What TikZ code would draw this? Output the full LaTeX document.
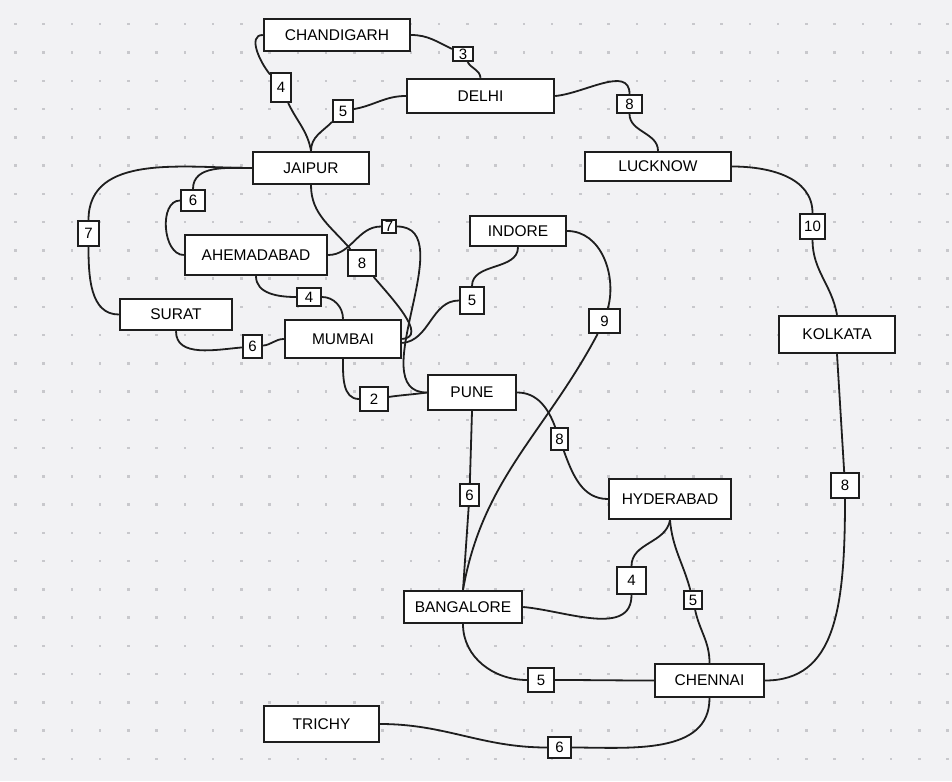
\documentclass[tikz,border=0pt]{standalone}
\usepackage{fontspec}
\setmainfont{Liberation Sans}
\definecolor{ink}{HTML}{1E1E1E}
\definecolor{paper}{HTML}{F2F2F4}
\definecolor{griddot}{HTML}{C8C8CC}
\begin{document}
\begin{tikzpicture}[x=1pt,y=1pt,
  city/.style={draw=ink, fill=white, line width=2.4pt, inner sep=0pt,
               font=\fontsize{15.5}{18}\selectfont},
  wt/.style={draw=ink, fill=white, line width=2pt, inner sep=0pt,
             font=\fontsize{15}{18}\selectfont},
  road/.style={draw=ink, line width=1.8pt},
]
% canvas and dotted grid
\fill[paper] (0,0) rectangle (952,-781);
\useasboundingbox (0,0) rectangle (952,-781);
\foreach \i in {0,...,33}
  \foreach \j in {0,...,26}
    \fill[griddot] ({15.3+\i*28.25-1.2},{-24.3-\j*28.25-1.2}) rectangle ++(2.4,2.4);

% cities
\node[city, minimum width=146pt, minimum height=32pt] (ch)  at (337,-35)    {CHANDIGARH};
\node[city, minimum width=147pt, minimum height=34pt] (de)  at (480.5,-96)  {DELHI};
\node[city, minimum width=116pt, minimum height=32pt] (ja)  at (311,-168)   {JAIPUR};
\node[city, minimum width=146pt, minimum height=29pt] (lu)  at (658,-166.5) {LUCKNOW};
\node[city, minimum width=116pt, minimum height=37pt] (ko)  at (837,-334.5) {KOLKATA};
\node[city, minimum width=142pt, minimum height=40pt] (ah)  at (256,-255)   {AHEMADABAD};
\node[city, minimum width=112pt, minimum height=31pt] (su)  at (176,-314.5) {SURAT};
\node[city, minimum width=116pt, minimum height=38pt] (mu)  at (343,-339)   {MUMBAI};
\node[city, minimum width=96pt,  minimum height=30pt] (ind) at (518,-231)   {INDORE};
\node[city, minimum width=88pt,  minimum height=35pt] (pu)  at (472,-392.5) {PUNE};
\node[city, minimum width=122pt, minimum height=40pt] (hy)  at (670,-499)   {HYDERABAD};
\node[city, minimum width=118pt, minimum height=32pt] (ba)  at (463,-607)   {BANGALORE};
\node[city, minimum width=109pt, minimum height=33pt] (chn) at (709.5,-680.5){CHENNAI};
\node[city, minimum width=115pt, minimum height=36pt] (tr)  at (321.5,-724) {TRICHY};

% distance tags
\node[wt, minimum width=20pt, minimum height=14pt] (l1)  at (463,-54)    {3};
\node[wt, minimum width=20pt, minimum height=29pt] (l2)  at (281,-87.5)  {4};
\node[wt, minimum width=20pt, minimum height=22pt] (l3)  at (343,-111)   {5};
\node[wt, minimum width=25pt, minimum height=18pt] (l4)  at (629.5,-104) {8};
\node[wt, minimum width=25pt, minimum height=25pt] (l5)  at (812.5,-226.5){10};
\node[wt, minimum width=28pt, minimum height=25pt] (l6)  at (845,-485.5) {8};
\node[wt, minimum width=21pt, minimum height=25pt] (l7)  at (88.5,-233.5) {7};
\node[wt, minimum width=24pt, minimum height=21pt] (l8)  at (193,-200.5) {6};
\node[wt, minimum width=24pt, minimum height=18pt] (l9)  at (309,-297)   {4};
\node[wt, minimum width=19pt, minimum height=23pt] (l10) at (252.5,-346.5){6};
\node[wt, minimum width=28pt, minimum height=26pt] (l11) at (362,-263)   {8};
\node[wt, minimum width=14pt, minimum height=13pt] (l12) at (389,-226.5) {7};
\node[wt, minimum width=24pt, minimum height=27pt] (l13) at (472,-300.5) {5};
\node[wt, minimum width=31pt, minimum height=24pt] (l14) at (604.5,-321) {9};
\node[wt, minimum width=28pt, minimum height=24pt] (l15) at (374,-399)   {2};
\node[wt, minimum width=17pt, minimum height=22pt] (l16) at (559.5,-439) {8};
\node[wt, minimum width=19pt, minimum height=22pt] (l17) at (469.5,-495) {6};
\node[wt, minimum width=29pt, minimum height=27pt] (l18) at (631.5,-580.5){4};
\node[wt, minimum width=18pt, minimum height=18pt] (l19) at (693,-600)   {5};
\node[wt, minimum width=26pt, minimum height=24pt] (l20) at (541,-680)   {5};
\node[wt, minimum width=23pt, minimum height=21pt] (l21) at (559.5,-747.5){6};

% roads
\draw[road] (ch.east) to[out=0,in=155] (l1);
\draw[road] (l1) to[out=-60,in=95] (de.north);
\draw[road] (ch.west) to[out=180,in=130] (l2);
\draw[road] (l2) to[out=-65,in=100] (ja.north);
\draw[road] (de.west) to[out=180,in=10] (l3);
\draw[road] (l3) to[out=-135,in=90] (ja.north);
\draw[road] (de.east) to[out=5,in=90] (l4);
\draw[road] (l4) to[out=-90,in=90] (lu.north);
\draw[road] (lu.east) to[out=0,in=90] (l5);
\draw[road] (l5) to[out=-90,in=100] (ko.north);
\draw[road] (ko.south) -- (l6);
\draw[road] (l6) to[out=-90,in=0,out distance=110pt,in distance=70pt] (chn.east);
\draw[road] (ja.west) to[out=180,in=90] (l7);
\draw[road] (l7) to[out=-90,in=180] (su.west);
\draw[road] (ja.west) to[out=180,in=90] (l8);
\draw[road] (l8) to[out=180,in=180] (ah.west);
\draw[road] (ah.south) to[out=-90,in=180] (l9);
\draw[road] (l9) to[out=0,in=90] (mu.north);
\draw[road] (su.south) to[out=-90,in=185] (l10);
\draw[road] (l10) to[out=5,in=180] (mu.west);
\draw[road] (ja.south) to[out=-90,in=130] (l11);
\draw[road] (l11) to[out=-50,in=5] (mu.east);
\draw[road] (ah.east) to[out=0,in=180] (l12);
\draw[road] (l12) to[out=0,in=180] (pu.west);
\draw[road] ([yshift=-4pt]mu.east) to[out=5,in=180] (l13);
\draw[road] (l13) to[out=90,in=-90] (ind.south);
\draw[road] (ind.east) to[out=0,in=75] (l14);
\draw[road] (l14) to[out=-118,in=80] (ba.north);
\draw[road] (mu.south) to[out=-90,in=180] (l15);
\draw[road] (l15) to[out=8,in=188] (pu.west);
\draw[road] (pu.east) to[out=0,in=110] (l16);
\draw[road] (l16) to[out=-70,in=180] (hy.west);
\draw[road] (pu.south) -- (l17) -- (ba.north);
\draw[road] (hy.south) to[out=-100,in=90] (l18);
\draw[road] (l18) to[out=-90,in=-5] (ba.east);
\draw[road] (hy.south) to[out=-85,in=105] (l19);
\draw[road] (l19) to[out=-78,in=90] (chn.north);
\draw[road] (ba.south) to[out=-90,in=180] (l20);
\draw[road] (l20) to[out=0,in=180] (chn.west);
\draw[road] (tr.east) to[out=0,in=180] (l21);
\draw[road] (l21) to[out=0,in=-90] (chn.south);
\end{tikzpicture}
\end{document}
